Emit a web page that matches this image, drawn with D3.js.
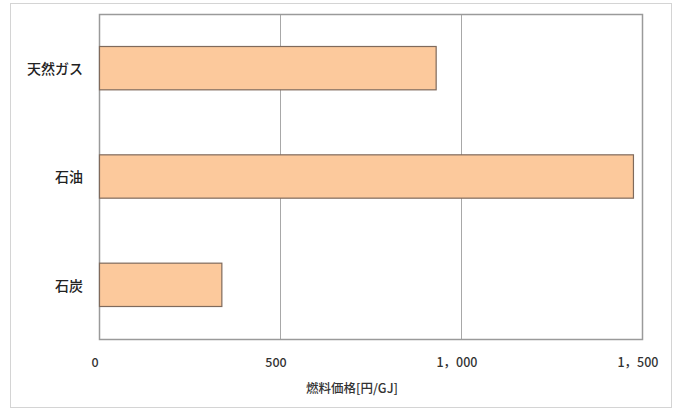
<!DOCTYPE html>
<html>
<head>
<meta charset="utf-8">
<script src="https://cdn.jsdelivr.net/npm/d3@7"></script>
<style>
  html, body { margin: 0; padding: 0; background: #fff; }
  svg { display: block; }
  text { font-family: "Noto Sans CJK JP", "Noto Sans", sans-serif; }
</style>
</head>
<body>
<script>
// Fuel prices (yen per GJ)
const categories = ["天然ガス", "石油", "石炭"];
const prices = [930, 1475, 338];
const tickValues = [0, 500, 1000, 1500];
const tickLabels = ["0", "500", "1，000", "1，500"];
const axisTitle = "燃料価格[円/GJ]";

const W = 678, H = 410;
const plot = { left: 99, top: 14, right: 642, bottom: 339 };

const svg = d3.select("body").append("svg")
  .attr("width", W).attr("height", H);

// outer chart frame
svg.append("rect")
  .attr("x", 10.5).attr("y", 3.5)
  .attr("width", 661).attr("height", 404)
  .attr("fill", "#fff").attr("stroke", "#d4d4d4").attr("stroke-width", 1);

const x = d3.scaleLinear().domain([0, 1500]).range([plot.left, plot.right]);
const y = d3.scaleBand().domain(categories)
  .range([plot.top, plot.bottom]).paddingInner(0.6).paddingOuter(0.3);

// vertical gridlines
svg.append("g").selectAll("line")
  .data(tickValues.slice(1, -1))
  .join("line")
  .attr("x1", d => Math.round(x(d)) + 0.5).attr("x2", d => Math.round(x(d)) + 0.5)
  .attr("y1", plot.top).attr("y2", plot.bottom)
  .attr("stroke", "#a8a8a8").attr("stroke-width", 1);

// plot area frame
svg.append("rect")
  .attr("x", plot.left + 0.5).attr("y", plot.top + 0.5)
  .attr("width", plot.right - plot.left).attr("height", plot.bottom - plot.top)
  .attr("fill", "none").attr("stroke", "#9a9a9a").attr("stroke-width", 1.5);

// bars
svg.append("g").selectAll("rect")
  .data(categories)
  .join("rect")
  .attr("x", x(0) + 0.5)
  .attr("y", d => y(d))
  .attr("width", (d, i) => x(prices[i]) - x(0))
  .attr("height", y.bandwidth())
  .attr("fill", "#fcc99c")
  .attr("stroke", "#7f6a5c").attr("stroke-width", 1.2);

// category labels
svg.append("g").selectAll("text")
  .data(categories)
  .join("text")
  .attr("x", 83)
  .attr("y", d => y(d) + y.bandwidth() / 2 + 2)
  .attr("text-anchor", "end")
  .attr("dominant-baseline", "middle")
  .attr("font-size", 14)
  .attr("font-weight", 500)
  .attr("fill", "#222")
  .text(d => d);

// x tick labels
svg.append("g").selectAll("text")
  .data(tickValues)
  .join("text")
  .attr("x", d => x(d) - 4)
  .attr("y", 364)
  .attr("text-anchor", "middle")
  .attr("dominant-baseline", "middle")
  .attr("font-size", 12.5)
  .attr("font-weight", 500)
  .attr("fill", "#333")
  .text((d, i) => tickLabels[i]);

// axis title
svg.append("text")
  .attr("x", 352).attr("y", 390)
  .attr("text-anchor", "middle")
  .attr("dominant-baseline", "middle")
  .attr("font-size", 12.5)
  .attr("font-weight", 500)
  .attr("fill", "#333")
  .text(axisTitle);
</script>
</body>
</html>
